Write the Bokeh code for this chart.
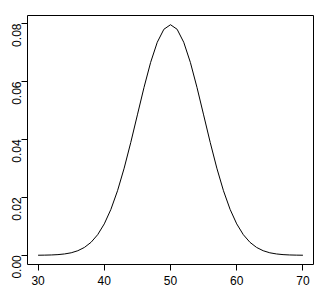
import math
from bokeh.plotting import figure
from bokeh.models import Range1d, FixedTicker, PrintfTickFormatter
from bokeh.embed import file_html
from bokeh.resources import INLINE

k = list(range(30, 71))
prob = [0.00002, 0.00005, 0.00011, 0.00023, 0.00046, 0.00086, 0.00157, 0.00271,
        0.00448, 0.00711, 0.01084, 0.01586, 0.02229, 0.03007, 0.03895, 0.04847,
        0.05796, 0.06659, 0.07353, 0.07802, 0.07959, 0.07802, 0.07353, 0.06659,
        0.05796, 0.04847, 0.03895, 0.03007, 0.02229, 0.01586, 0.01084, 0.00711,
        0.00448, 0.00271, 0.00157, 0.00086, 0.00046, 0.00023, 0.00011, 0.00005,
        0.00002]
x_ticks = [30, 40, 50, 60, 70]
y_ticks = [0.00, 0.02, 0.04, 0.06, 0.08]

xr = (max(k) - min(k)) * 0.04
yr = (max(prob) - 0) * 0.04

p = figure(width=322, height=295, output_backend="svg", toolbar_location=None,
           x_range=Range1d(min(k) - xr, max(k) + xr),
           y_range=Range1d(0 - yr, max(prob) + yr),
           min_border_left=27, min_border_right=9, min_border_top=15, min_border_bottom=31)
p.line(k, prob, line_color="black", line_width=1)

p.grid.visible = False
p.outline_line_color = "black"
p.outline_line_width = 1
p.background_fill_color = "white"
p.border_fill_color = "white"

for ax in (p.xaxis[0], p.yaxis[0]):
    ax.axis_line_color = None
    ax.major_tick_line_color = "black"
    ax.major_tick_out = 6
    ax.major_tick_in = 0
    ax.minor_tick_line_color = None
    ax.major_label_text_font = "Liberation Sans"
    ax.major_label_text_font_size = "12px"
    ax.major_label_text_color = "black"
    ax.major_label_standoff = 5

p.xaxis.ticker = FixedTicker(ticks=x_ticks)
p.yaxis.ticker = FixedTicker(ticks=y_ticks)
p.yaxis.formatter = PrintfTickFormatter(format="%.2f")
p.yaxis.major_label_orientation = math.pi / 2

open("out.html", "w").write(file_html(p, INLINE))
